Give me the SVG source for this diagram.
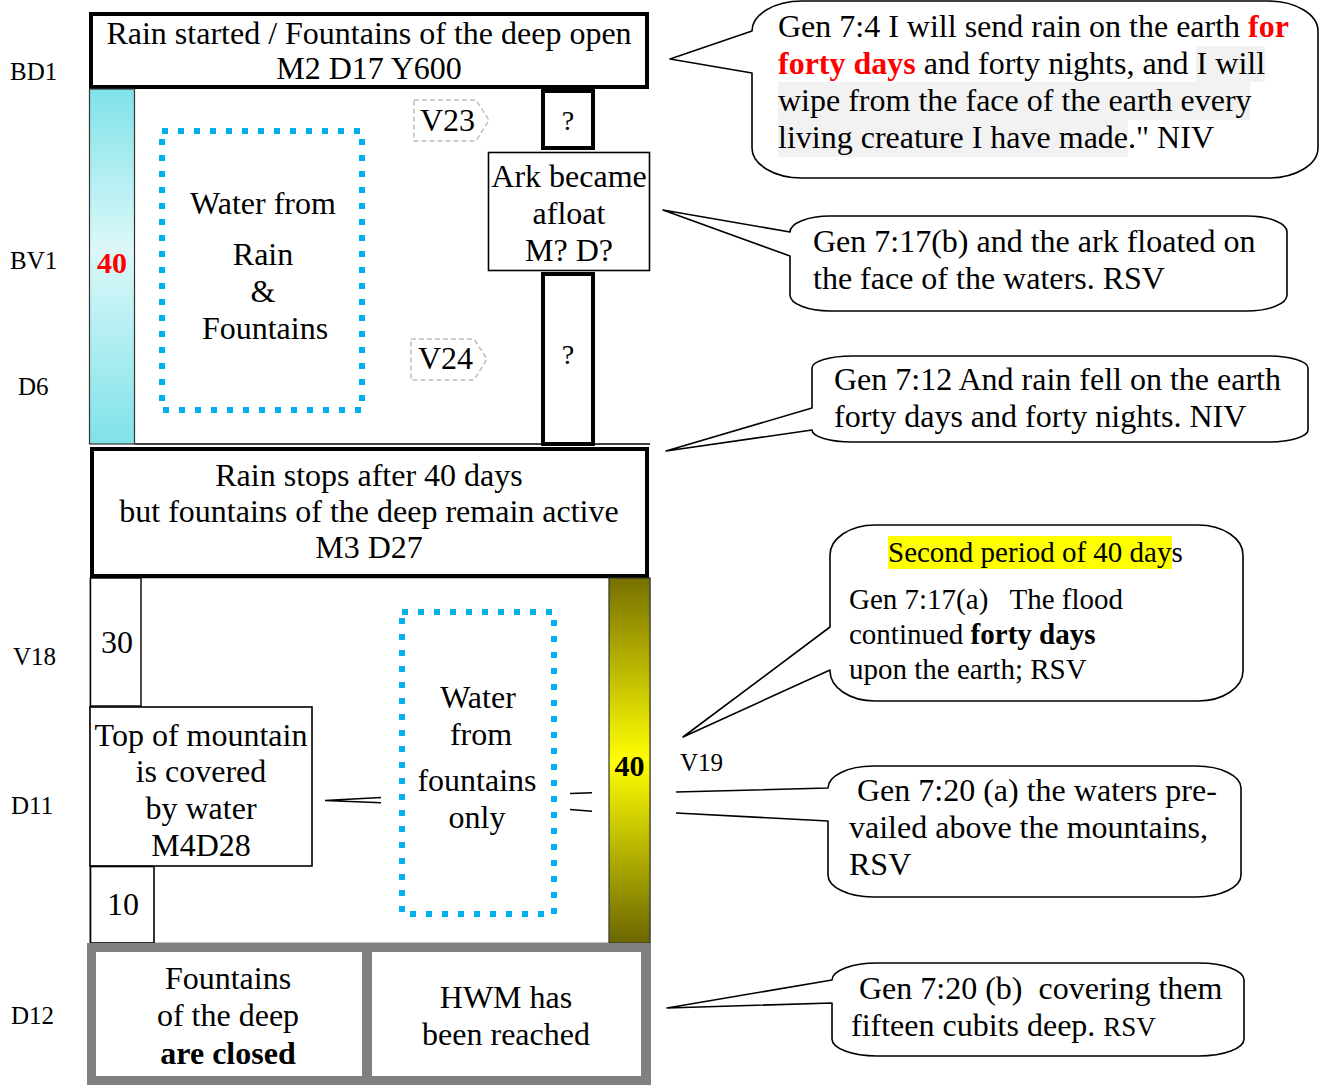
<svg xmlns="http://www.w3.org/2000/svg" width="1320" height="1085" viewBox="0 0 1320 1085">
<defs>
<linearGradient id="cyanG" x1="0" y1="0" x2="0" y2="1">
<stop offset="0" stop-color="#7fe2e8"/>
<stop offset="0.45" stop-color="#dcf8f9"/>
<stop offset="1" stop-color="#7fe2e8"/>
</linearGradient>
<linearGradient id="yelG" x1="0" y1="0" x2="0" y2="1">
<stop offset="0" stop-color="#777000"/>
<stop offset="0.5" stop-color="#ffff00"/>
<stop offset="1" stop-color="#6b6600"/>
</linearGradient>
</defs>
<style>
text{font-family:"Liberation Serif","Times New Roman",serif;fill:#000}
.t32{font-size:32px}
.t29{font-size:29px}
.lab{font-size:25px}
.mid{text-anchor:middle}
.b{font-weight:bold}
.thick{fill:#fff;stroke:#000;stroke-width:4}
.thin{fill:#fff;stroke:#000;stroke-width:1.6}
.dot{fill:none;stroke:#00b0f0;stroke-width:6;stroke-dasharray:6 10}
.tag{fill:#fff;stroke:#bdbdbd;stroke-width:1.5;stroke-dasharray:5 3}
.bub{fill:#fff;stroke:#000;stroke-width:1.6;stroke-linejoin:round}
.ln{stroke:#000;stroke-width:1.6;fill:none}
</style>
<rect x="0" y="0" width="1320" height="1085" fill="#fff"/>

<g id="labels">
<text class="lab" x="10" y="80">BD1</text>
<text class="lab" x="10" y="269">BV1</text>
<text class="lab" x="18" y="395">D6</text>
<text class="lab" x="13" y="665">V18</text>
<text class="lab" x="11" y="814">D11</text>
<text class="lab" x="11" y="1024">D12</text>
<text class="lab" x="680" y="771">V19</text>
</g>

<g id="lower-section">
<rect x="90" y="578" width="560" height="365" fill="#fff" stroke="#999" stroke-width="1.2"/>
</g>

<g id="connectors">
<line class="ln" x1="135" y1="444" x2="650" y2="444" stroke="#888"/>
<path class="ln" d="M381,797.5 L325,800.5 L381,802.8"/>
<line class="ln" x1="570" y1="793.5" x2="592" y2="792.8"/>
<line class="ln" x1="570" y1="809.5" x2="592" y2="811.2"/>
</g>

<g id="top-box">
<rect class="thick" x="91" y="14" width="556" height="73"/>
<text class="t32 mid" x="369" y="44">Rain started / Fountains of the deep open</text>
<text class="t32 mid" x="369" y="79">M2 D17 Y600</text>
</g>

<g id="cyan-bar">
<rect x="89.5" y="89" width="45" height="355" fill="url(#cyanG)" stroke="#333" stroke-width="1.2"/>
<text class="mid b" x="112" y="273" style="font-size:30px;fill:#ff0000">40</text>
</g>

<g id="water-rain-fountains">
<rect class="dot" x="162" y="131" width="200" height="279"/>
<text class="t32 mid" x="263" y="214">Water from</text>
<text class="t32 mid" x="263" y="265">Rain</text>
<text class="t32 mid" x="263" y="302">&amp;</text>
<text class="t32 mid" x="265" y="339">Fountains</text>
</g>

<g id="v23">
<path class="tag" d="M414,100 H476 L489,120 L476,141 H414 Z"/>
<text class="t32" x="420" y="131">V23</text>
</g>
<g id="v24">
<path class="tag" d="M411,339 H474 L487,359 L474,380 H411 Z"/>
<text class="t32" x="418" y="369">V24</text>
</g>

<g id="q1">
<rect class="thick" x="543" y="91" width="50" height="57"/>
<text class="mid" x="568" y="130" style="font-size:28px">?</text>
</g>
<g id="ark">
<rect class="thin" x="488.5" y="152.5" width="161" height="118"/>
<text class="t32 mid" x="569" y="187">Ark became</text>
<text class="t32 mid" x="569" y="224">afloat</text>
<text class="t32 mid" x="569" y="261">M? D?</text>
</g>
<g id="q2">
<rect class="thick" x="543" y="274" width="50" height="170"/>
<text class="mid" x="568" y="364" style="font-size:28px">?</text>
</g>

<g id="rain-stops">
<rect class="thick" x="92" y="449" width="555" height="127"/>
<text class="t32 mid" x="369" y="486">Rain stops after 40 days</text>
<text class="t32 mid" x="369" y="522">but fountains of the deep remain active</text>
<text class="t32 mid" x="369" y="558">M3 D27</text>
</g>

<g id="box30">
<rect x="90.5" y="578" width="50.5" height="128" fill="#fff" stroke="#000" stroke-width="1.4"/>
<text class="t32" x="101" y="653">30</text>
</g>
<g id="mountain">
<rect class="thin" x="90" y="707" width="222" height="159"/>
<text class="t32 mid" x="201" y="746">Top of mountain</text>
<text class="t32 mid" x="201" y="782">is covered</text>
<text class="t32 mid" x="201" y="819">by water</text>
<text class="t32 mid" x="201" y="856">M4D28</text>
</g>
<g id="box10">
<rect class="thin" x="90.5" y="866.5" width="63.5" height="76.5"/>
<text class="t32" x="107" y="915">10</text>
</g>

<g id="water-fountains-only">
<rect class="dot" x="402" y="612" width="152" height="302"/>
<text class="t32 mid" x="478" y="708">Water</text>
<text class="t32 mid" x="481" y="745">from</text>
<text class="t32 mid" x="477" y="791">fountains</text>
<text class="t32 mid" x="477" y="828">only</text>
</g>

<g id="yellow-bar">
<rect x="609" y="578" width="41" height="365" fill="url(#yelG)" stroke="#333" stroke-width="1.2"/>
<text class="mid b" x="629.5" y="776" style="font-size:30px">40</text>
</g>

<g id="bottom">
<rect x="87" y="943" width="564" height="142" fill="#808080"/>
<rect x="96" y="952" width="266" height="124" fill="#fff"/>
<rect x="372" y="952" width="269" height="124" fill="#fff"/>
<text class="t32 mid" x="228" y="989">Fountains</text>
<text class="t32 mid" x="228" y="1026">of the deep</text>
<text class="t32 mid b" x="228" y="1064">are closed</text>
<text class="t32 mid" x="506" y="1008">HWM has</text>
<text class="t32 mid" x="506" y="1045">been reached</text>
</g>

<g id="callout-7-4">
<path class="bub" d="M802,1 H1268 A50,30 0 0 1 1318,31 V148 A50,30 0 0 1 1268,178 H802 A50,30 0 0 1 752,148 V73 L670,59 L752,31 A50,30 0 0 1 802,1 Z"/>
<rect x="1196" y="46" width="69" height="36" fill="#f2f2f2"/>
<rect x="778" y="82" width="472" height="38" fill="#f2f2f2"/>
<rect x="778" y="120" width="350" height="37" fill="#f2f2f2"/>
<text class="t32" x="778" y="37">Gen 7:4 I will send rain on the earth <tspan class="b" style="fill:#ff0000">for</tspan></text>
<text class="t32" x="778" y="74"><tspan class="b" style="fill:#ff0000">forty days</tspan> and forty nights, and I will</text>
<text class="t32" x="778" y="111">wipe from the face of the earth every</text>
<text class="t32" x="778" y="148">living creature I have made." NIV</text>
</g>

<g id="callout-7-17b">
<path class="bub" d="M830,216 H1247 A40,16 0 0 1 1287,232 V295 A40,16 0 0 1 1247,311 H830 A40,16 0 0 1 790,295 V256 L663,210 L790,232 A40,16 0 0 1 830,216 Z"/>
<text class="t32" x="813" y="252">Gen 7:17(b) and the ark floated on</text>
<text class="t32" x="813" y="289">the face of the waters. RSV</text>
</g>

<g id="callout-7-12">
<path class="bub" d="M852,356 H1268 A40,12 0 0 1 1308,368 V430 A40,12 0 0 1 1268,442 H852 A40,12 0 0 1 812,430 L666,451 L812,408 V368 A40,12 0 0 1 852,356 Z"/>
<text class="t32" x="834" y="390">Gen 7:12 And rain fell on the earth</text>
<text class="t32" x="834" y="427">forty days and forty nights. NIV</text>
</g>

<g id="callout-7-17a">
<path class="bub" d="M875,525 H1198 A45,30 0 0 1 1243,555 V671 A45,30 0 0 1 1198,701 H875 A45,30 0 0 1 830,671 V670 L683,737 L830,627 V555 A45,30 0 0 1 875,525 Z"/>
<rect x="888" y="536" width="284" height="33" fill="#ffff00"/>
<text class="t29" x="888" y="562">Second period of 40 days</text>
<text class="t29" x="849" y="609" xml:space="preserve">Gen 7:17(a)   The flood</text>
<text class="t29" x="849" y="644">continued <tspan class="b">forty days</tspan></text>
<text class="t29" x="849" y="679">upon the earth; RSV</text>
</g>

<g id="callout-7-20a">
<path class="bub" d="M676,792 L828,788 A45,22 0 0 1 873,766 H1196 A45,22 0 0 1 1241,788 V875 A45,22 0 0 1 1196,897 H873 A45,22 0 0 1 828,875 V821 L676,813"/>
<text class="t32" x="857" y="801">Gen 7:20 (a) the waters pre-</text>
<text class="t32" x="849" y="838">vailed above the mountains,</text>
<text class="t32" x="849" y="875">RSV</text>
</g>

<g id="callout-7-20b">
<path class="bub" d="M877,963 H1199 A45,17 0 0 1 1244,980 V1039 A45,17 0 0 1 1199,1056 H877 A45,17 0 0 1 832,1039 V1003 L667,1008 L832,980 A45,17 0 0 1 877,963 Z"/>
<text class="t32" x="859" y="999" xml:space="preserve">Gen 7:20 (b)  covering them</text>
<text class="t32" x="851" y="1036">fifteen cubits deep. <tspan style="font-size:27px">RSV</tspan></text>
</g>
</svg>
